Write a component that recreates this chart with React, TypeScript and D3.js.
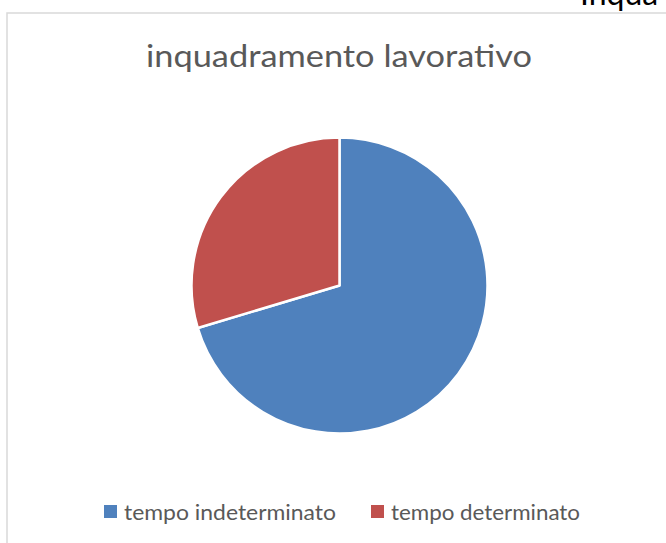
import React, {useRef, useEffect} from 'react';
import * as d3 from 'd3';

const categories = ['tempo indeterminato', 'tempo determinato'];
const values = [19, 8];
const colors = ['#4f81bd', '#c0504d'];
const title = 'inquadramento lavorativo';

export default function App() {
  const ref = useRef<SVGSVGElement>(null);

  useEffect(() => {
    const width = 666;
    const height = 543;
    const cx = 339.5;
    const cy = 285.5;
    const radius = 148;

    const svg = d3.select(ref.current)
      .attr('width', width)
      .attr('height', height);
    svg.selectAll('*').remove();

    svg.append('rect')
      .attr('width', width)
      .attr('height', height)
      .attr('fill', 'white');

    // testo del foglio dietro al grafico, tagliato in alto
    svg.append('text')
      .attr('x', 580)
      .attr('y', 5)
      .attr('font-family', 'Lato, sans-serif')
      .attr('font-size', 32)
      .attr('fill', '#000')
      .text('Inqua');

    // cornice del grafico
    svg.append('rect')
      .attr('x', 7)
      .attr('y', 13)
      .attr('width', 700)
      .attr('height', 600)
      .attr('fill', 'white')
      .attr('stroke', '#d9d9d9')
      .attr('stroke-width', 1.5);

    svg.append('text')
      .attr('x', 146)
      .attr('y', 67)
      .attr('font-family', 'Lato, sans-serif')
      .attr('font-size', 30)
      .attr('fill', '#595959')
      .attr('textLength', 386)
      .attr('lengthAdjust', 'spacingAndGlyphs')
      .text(title);

    const pie = d3.pie<number>().sort(null).value(d => d);
    const arc = d3.arc<d3.PieArcDatum<number>>().innerRadius(0).outerRadius(radius);

    svg.append('g')
      .attr('transform', `translate(${cx},${cy})`)
      .selectAll('path')
      .data(pie(values))
      .enter()
      .append('path')
      .attr('d', arc)
      .attr('fill', (d, i) => colors[i])
      .attr('stroke', 'white')
      .attr('stroke-width', 2.5)
      .attr('stroke-linejoin', 'round');

    // legenda
    const legendX = [104, 371];
    const legendW = [212, 189];
    const legend = svg.append('g')
      .selectAll('g')
      .data(categories)
      .enter()
      .append('g')
      .attr('transform', (d, i) => `translate(${legendX[i]},505)`);

    legend.append('rect')
      .attr('width', 13)
      .attr('height', 13)
      .attr('fill', (d, i) => colors[i]);

    legend.append('text')
      .attr('x', 20)
      .attr('y', 15)
      .attr('font-family', 'Lato, sans-serif')
      .attr('font-size', 21)
      .attr('fill', '#595959')
      .attr('textLength', (d, i) => legendW[i])
      .attr('lengthAdjust', 'spacingAndGlyphs')
      .text(d => d);
  }, []);

  return (
    <div style={{position: 'absolute', left: 0, top: 0}}>
      <svg ref={ref} style={{display: 'block'}} />
    </div>
  );
}
